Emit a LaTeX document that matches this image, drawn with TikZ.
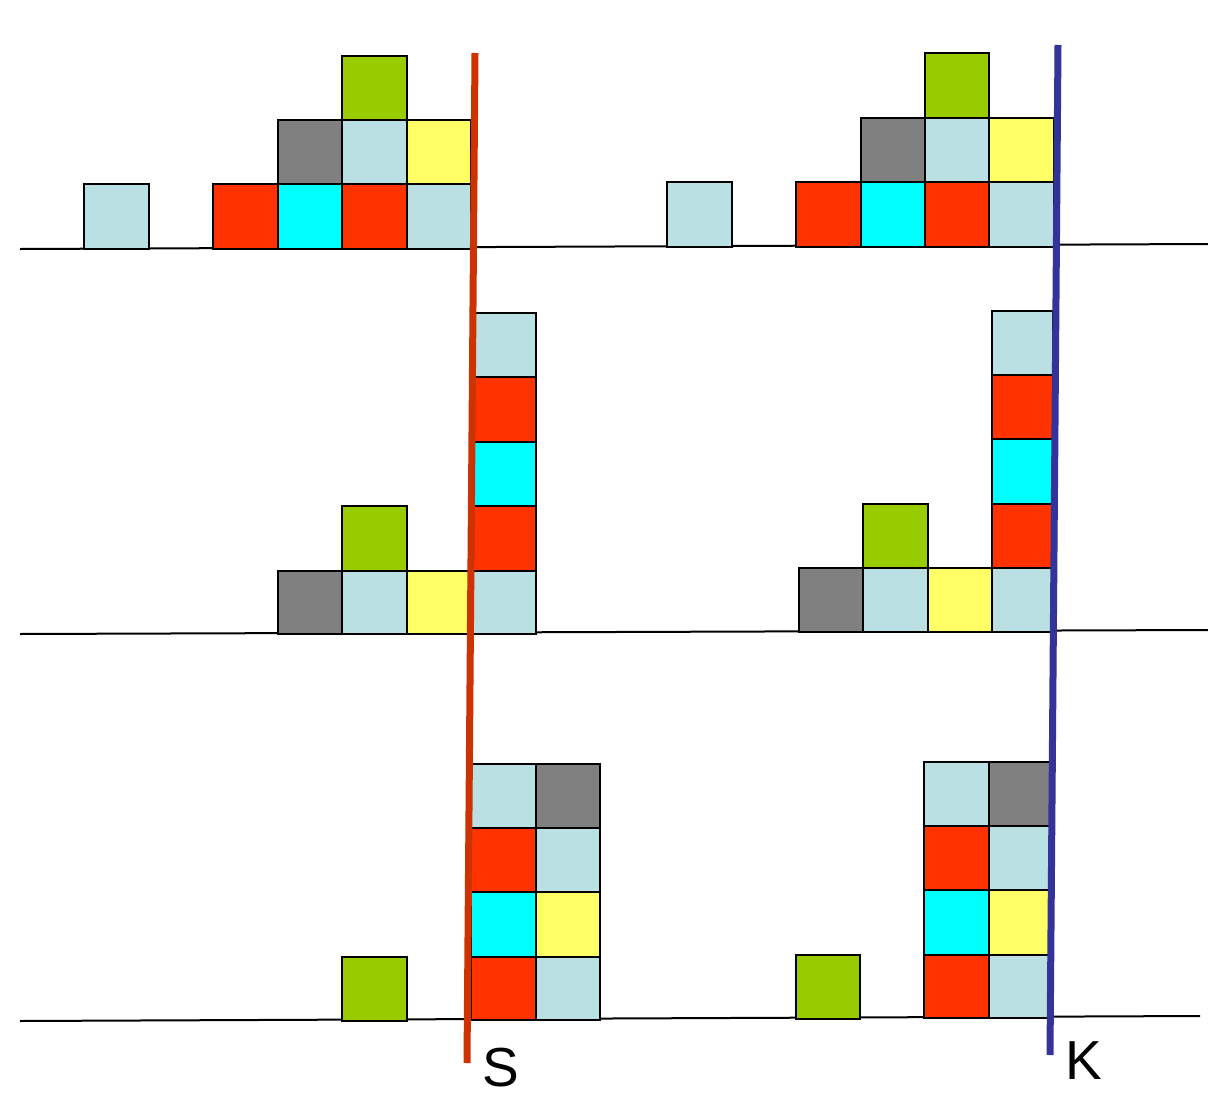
\documentclass[tikz,border=0pt]{standalone}
\usepackage{fontspec}
\setmainfont{Liberation Sans}
\definecolor{lb}{HTML}{BBE0E3}
\definecolor{rd}{HTML}{FF3300}
\definecolor{cy}{HTML}{00FFFF}
\definecolor{gy}{HTML}{808080}
\definecolor{yl}{HTML}{FFFF66}
\definecolor{gr}{HTML}{99CC00}
\definecolor{sline}{HTML}{CC3300}
\definecolor{kline}{HTML}{333399}
\newcommand{\cellbox}[5]{\draw[cellsty, fill=#1] (#2,#3) rectangle (#4,#5);}
\begin{document}
\begin{tikzpicture}[x=1pt,y=-1pt,
  cellsty/.style={draw=black, line width=2.8pt, line join=miter},
  base/.style={draw=black, line width=2pt},
  divider/.style={line width=7pt},
  lbl/.style={inner sep=0pt, font=\fontsize{55}{60}\selectfont}]
\useasboundingbox (0,0) rectangle (1208,1103);
% baselines
\coordinate (b1l) at (20,249); \coordinate (b1r) at (1208,244);
\coordinate (b2l) at (20,634); \coordinate (b2r) at (1208,630);
\coordinate (b3l) at (20,1021); \coordinate (b3r) at (1200,1016);
\draw[base] (b1l) -- (b1r);
\draw[base] (b2l) -- (b2r);
\draw[base] (b3l) -- (b3r);
% ---- top left
\cellbox{lb}{84}{184}{149}{249}
\cellbox{rd}{213}{184}{278}{249}
\cellbox{cy}{278}{184}{342}{249}
\cellbox{rd}{342}{184}{407}{249}
\cellbox{lb}{407}{184}{471}{249}
\cellbox{gy}{278}{120}{342}{184}
\cellbox{lb}{342}{120}{407}{184}
\cellbox{yl}{407}{120}{471}{184}
\cellbox{gr}{342}{56}{407}{120}
% ---- top right
\cellbox{lb}{667}{182}{732}{247}
\cellbox{rd}{796}{182}{861}{247}
\cellbox{cy}{861}{182}{925}{247}
\cellbox{rd}{925}{182}{989}{247}
\cellbox{lb}{989}{182}{1054}{247}
\cellbox{gy}{861}{118}{925}{182}
\cellbox{lb}{925}{118}{989}{182}
\cellbox{yl}{989}{118}{1054}{182}
\cellbox{gr}{925}{53}{989}{118}
% ---- middle left
\cellbox{gy}{278}{571}{342}{634}
\cellbox{lb}{342}{571}{407}{634}
\cellbox{yl}{407}{571}{471}{634}
\cellbox{lb}{471}{571}{536}{634}
\cellbox{gr}{342}{506}{407}{571}
\cellbox{rd}{471}{506}{536}{571}
\cellbox{cy}{471}{442}{536}{506}
\cellbox{rd}{471}{377}{536}{442}
\cellbox{lb}{471}{313}{536}{377}
% ---- middle right
\cellbox{gy}{799}{568}{863}{632}
\cellbox{lb}{863}{568}{928}{632}
\cellbox{yl}{928}{568}{992}{632}
\cellbox{lb}{992}{568}{1053}{632}
\cellbox{gr}{863}{504}{928}{568}
\cellbox{rd}{992}{504}{1053}{568}
\cellbox{cy}{992}{439}{1053}{504}
\cellbox{rd}{992}{375}{1053}{439}
\cellbox{lb}{992}{311}{1053}{375}
% ---- bottom left
\cellbox{gr}{342}{957}{407}{1021}
\cellbox{rd}{471}{957}{536}{1020}
\cellbox{lb}{536}{957}{600}{1020}
\cellbox{cy}{471}{892}{536}{957}
\cellbox{yl}{536}{892}{600}{957}
\cellbox{rd}{471}{828}{536}{892}
\cellbox{lb}{536}{828}{600}{892}
\cellbox{lb}{471}{764}{536}{828}
\cellbox{gy}{536}{764}{600}{828}
% ---- bottom right
\cellbox{gr}{796}{955}{860}{1019}
\cellbox{rd}{924}{955}{989}{1018}
\cellbox{lb}{989}{955}{1050}{1018}
\cellbox{cy}{924}{890}{989}{955}
\cellbox{yl}{989}{890}{1050}{955}
\cellbox{rd}{924}{826}{989}{890}
\cellbox{lb}{989}{826}{1050}{890}
\cellbox{lb}{924}{762}{989}{826}
\cellbox{gy}{989}{762}{1050}{826}
% ---- dividers
\coordinate (st) at (475,53); \coordinate (sb) at (467,1063);
\coordinate (kt) at (1058,45); \coordinate (kb) at (1050,1055);
\draw[divider, sline] (st) -- (sb);
\draw[divider, kline] (kt) -- (kb);
\node[lbl] (S) at (501,1068) {S};
\node[lbl] (K) at (1084,1061) {K};
\end{tikzpicture}
\end{document}
